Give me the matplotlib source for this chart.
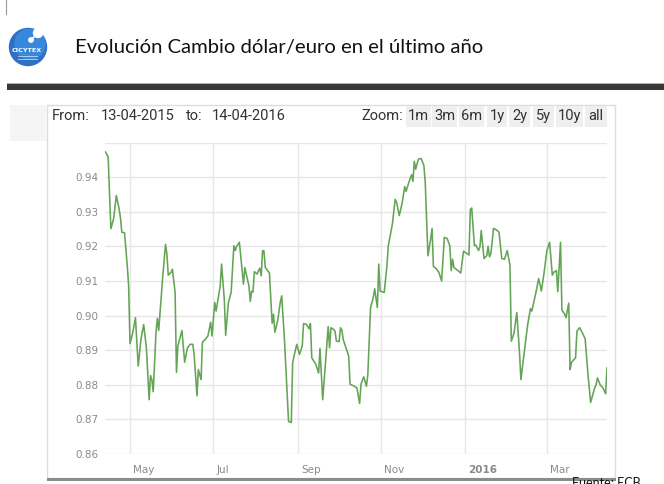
import matplotlib
matplotlib.use("Agg")
import matplotlib.pyplot as plt
from matplotlib.patches import Rectangle, Circle
from matplotlib.transforms import ScaledTranslation
import pandas as pd

# ---------------- data ----------------
start_date = "2015-04-13"
end_date = "2016-04-14"
day_offsets = [
    0, 2, 4, 6, 8, 10, 11, 12, 14, 16, 17, 18, 20, 22, 24, 26, 28, 30, 32, 33,
    34, 35, 37, 38, 39, 42, 44, 45, 46, 48, 49, 51, 52, 53, 56, 58, 60, 62, 64, 65,
    67, 68, 70, 71, 73, 75, 77, 78, 80, 81, 84, 85, 87, 88, 90, 92, 94, 95, 96, 98,
    99, 101, 102, 105, 106, 107, 108, 109, 111, 112, 113, 114, 115, 116, 117, 120, 122, 123, 124, 126,
    128, 129, 131, 133, 134, 136, 137, 138, 140, 142, 144, 145, 147, 149, 150, 151, 154, 156, 157, 159,
    161, 163, 164, 165, 167, 168, 169, 171, 172, 173, 174, 176, 178, 179, 182, 184, 186, 187, 189, 191,
    192, 194, 196, 197, 199, 200, 201, 204, 206, 207, 210, 212, 213, 215, 217, 219, 220, 222, 224, 225,
    226, 227, 229, 231, 233, 234, 236, 238, 239, 240, 242, 244, 246, 248, 250, 252, 253, 254, 255, 258,
    260, 262, 264, 266, 267, 268, 270, 271, 273, 274, 275, 277, 279, 280, 281, 282, 284, 286, 288, 290,
    292, 294, 296, 297, 299, 301, 303, 304, 307, 309, 311, 312, 315, 317, 319, 321, 323, 325, 327, 328,
    330, 331, 333, 334, 336, 337, 339, 340, 341, 344, 345, 347, 349, 351, 353, 355, 358, 359, 360, 362,
    364, 366, 367,
]
rates = [
    0.9473, 0.9459, 0.9251, 0.9280, 0.9347, 0.9309, 0.9284, 0.9241, 0.9239, 0.9144,
    0.9086, 0.8919, 0.8950, 0.8994, 0.8854, 0.8931, 0.8974, 0.8907, 0.8757, 0.8827,
    0.8815, 0.8780, 0.8950, 0.8992, 0.8957, 0.9115, 0.9206, 0.9178, 0.9117, 0.9125,
    0.9134, 0.9067, 0.8836, 0.8912, 0.8957, 0.8865, 0.8907, 0.8917, 0.8917, 0.8883,
    0.8768, 0.8844, 0.8815, 0.8923, 0.8931, 0.8941, 0.8981, 0.8941, 0.9038, 0.9013,
    0.9086, 0.9149, 0.9046, 0.8943, 0.9038, 0.9067, 0.9202, 0.9188, 0.9200, 0.9212,
    0.9173, 0.9091, 0.9139, 0.9086, 0.9041, 0.9071, 0.9068, 0.9127, 0.9120, 0.9130,
    0.9137, 0.9115, 0.9188, 0.9187, 0.9139, 0.9123, 0.8978, 0.9004, 0.8952, 0.8984,
    0.9040, 0.9057, 0.8931, 0.8776, 0.8694, 0.8691, 0.8863, 0.8883, 0.8917, 0.8888,
    0.8912, 0.8977, 0.8975, 0.8962, 0.8977, 0.8878, 0.8859, 0.8834, 0.8905, 0.8757,
    0.8863, 0.8968, 0.8907, 0.8965, 0.8960, 0.8955, 0.8926, 0.8925, 0.8965, 0.8958,
    0.8931, 0.8907, 0.8883, 0.8802, 0.8796, 0.8791, 0.8746, 0.8802, 0.8823, 0.8796,
    0.8829, 0.9023, 0.9052, 0.9078, 0.9023, 0.9149, 0.9071, 0.9067, 0.9144, 0.9202,
    0.9265, 0.9336, 0.9328, 0.9289, 0.9323, 0.9373, 0.9359, 0.9385, 0.9407, 0.9388,
    0.9446, 0.9423, 0.9452, 0.9454, 0.9434, 0.9386, 0.9173, 0.9222, 0.9252, 0.9142,
    0.9136, 0.9125, 0.9100, 0.9226, 0.9223, 0.9202, 0.9130, 0.9163, 0.9139, 0.9130,
    0.9123, 0.9186, 0.9181, 0.9175, 0.9307, 0.9311, 0.9202, 0.9204, 0.9188, 0.9198,
    0.9246, 0.9165, 0.9173, 0.9200, 0.9170, 0.9178, 0.9252, 0.9248, 0.9241, 0.9165,
    0.9163, 0.9188, 0.9146, 0.8926, 0.8950, 0.9009, 0.8892, 0.8815, 0.8912, 0.8975,
    0.9020, 0.9013, 0.9067, 0.9107, 0.9071, 0.9125, 0.9188, 0.9212, 0.9117, 0.9125,
    0.9130, 0.9069, 0.9212, 0.9016, 0.9004, 0.8994, 0.9036, 0.8844, 0.8865, 0.8878,
    0.8955, 0.8965, 0.8950, 0.8933, 0.8834, 0.8749, 0.8791, 0.8800, 0.8820, 0.8800,
    0.8791, 0.8774, 0.8849,
]
y_ticks = [0.86, 0.87, 0.88, 0.89, 0.90, 0.91, 0.92, 0.93, 0.94]
x_tick_dates = ["2015-05-01", "2015-07-01", "2015-09-01", "2015-11-01", "2016-01-01", "2016-03-01"]
x_tick_labels = ["May", "Jul", "Sep", "Nov", "2016", "Mar"]
title = "Evolución Cambio dólar/euro en el último año"
from_text, to_text = "13-04-2015", "14-04-2016"
zoom_buttons = ["1m", "3m", "6m", "1y", "2y", "5y", "10y", "all"]
source = "Fuente: ECB"

dates = pd.Timestamp(start_date) + pd.to_timedelta(day_offsets, unit="D")

# ---------------- figure ----------------
W, H = 664, 484
fig = plt.figure(figsize=(W / 100, H / 100), dpi=100)
fig.patch.set_facecolor("white")

# overlay in pixel coordinates for slide decorations
ov = fig.add_axes([0, 0, 1, 1], zorder=0)
ov.set_xlim(0, W)
ov.set_ylim(H, 0)
ov.axis("off")

narrow = ["Roboto", "DejaVu Sans"]
fs_sel = 10.5

# cursor artefact
ov.plot([6, 6], [0, 14], color="#999999", lw=0.8)

# logo
ov.add_patch(Circle((28, 47), 18.5, color="#2f6fc4", zorder=1))
ov.add_patch(Circle((30, 44), 15, color="#3a8ee0", zorder=1, alpha=0.8))
ov.add_patch(Circle((38, 33), 4.5, color="white", zorder=2))
ov.add_patch(Circle((31, 40), 2.2, color="white", zorder=2))
ov.plot([31, 38], [40, 33], color="white", lw=1.2, zorder=2)
ov.text(27, 51, "CICYTEX", color="white", fontsize=4.6, fontweight="bold",
        ha="center", va="center", zorder=3)
ov.plot([18, 37], [56, 56], color="white", lw=0.6, alpha=0.7, zorder=3)
ov.plot([18, 37], [58.5, 58.5], color="white", lw=0.6, alpha=0.7, zorder=3)

# title
ov.text(75, 48, title, fontsize=14.6, family=["Lato", "DejaVu Sans"], color="#111111",
        ha="left", va="center")

# dark bar
ov.add_patch(Rectangle((7, 83), W - 7, 1.2, color="#b0b0b0", lw=0))
ov.add_patch(Rectangle((7, 84), W - 7, 6, color="#383838", lw=0))

# chart container
ov.add_patch(Rectangle((10, 105), 36, 36, color="#f5f5f5", lw=0))
ov.add_patch(Rectangle((47, 105), 568, 373, facecolor="white", edgecolor="#dcdcdc", lw=1))
ov.add_patch(Rectangle((47, 477.5), 569, 3.5, color="#8c8c8c", lw=0))

# range selector
ov.text(52, 116, "From:", fontsize=fs_sel, family=narrow, color="#333333", va="center")
ov.text(101, 116, from_text, fontsize=fs_sel, family=narrow, color="#333333", va="center")
ov.text(186, 116, "to:", fontsize=fs_sel, family=narrow, color="#333333", va="center")
ov.text(212, 116, to_text, fontsize=fs_sel, family=narrow, color="#333333", va="center")
ov.text(361, 116, "Zoom:", fontsize=fs_sel, family=narrow, color="#333333", va="center")
btn_x = [406, 432, 459, 487, 509, 533, 556, 585]
btn_w = [25, 25, 25, 20, 21, 21, 27, 22]
for bx, bw, lab in zip(btn_x, btn_w, zoom_buttons):
    ov.add_patch(Rectangle((bx, 106), bw, 21, color="#efefef", lw=0))
    ov.text(bx + bw / 2, 116, lab, fontsize=fs_sel, family=narrow, color="#333333",
            ha="center", va="center")

# source (cut at the bottom edge, as in the slide)
ov.text(572, 483, source, fontsize=9, family=["Lato", "DejaVu Sans"], color="#111111",
        ha="left", va="center")

# ---------------- chart ----------------
left, right = 105.4 / W, 607 / W
bottom, top = (H - 454) / H, (H - 142.6) / H
ax = fig.add_axes([left, bottom, right - left, top - bottom], zorder=2)
ax.patch.set_alpha(0)
ax.plot(dates, rates, color="#63a455", lw=1.15, solid_joinstyle="round")
ax.set_xlim(pd.Timestamp(start_date), pd.Timestamp(end_date))
ax.set_ylim(0.86, 0.95)

ax.set_yticks(y_ticks)
ax.set_yticklabels([f"{v:.2f}" for v in y_ticks])
for g in y_ticks + [0.95]:
    ax.axhline(g, color="#e6e6e6", lw=1, zorder=0)
xt = [pd.Timestamp(d) for d in x_tick_dates]
for d in xt:
    ax.axvline(d, color="#e6e6e6", lw=1, zorder=0)
ax.set_xticks(xt)
ax.set_xticklabels(x_tick_labels)
ax.tick_params(axis="both", length=0, colors="#8a8a8a", labelsize=7.5)
ax.tick_params(axis="y", pad=5)
ax.tick_params(axis="x", pad=8)
for lab in ax.get_xticklabels():
    lab.set_horizontalalignment("left")
    lab.set_transform(lab.get_transform() + ScaledTranslation(0.03, 0, fig.dpi_scale_trans))
    if lab.get_text() == "2016":
        lab.set_fontweight("bold")
for s in ax.spines.values():
    s.set_visible(False)

fig.savefig("out.png", dpi=100)
